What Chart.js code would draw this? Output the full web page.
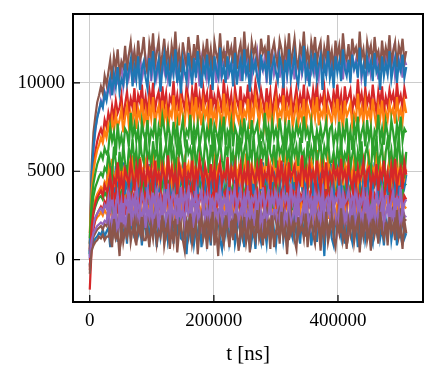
<!DOCTYPE html>
<html lang="en">
<head>
<meta charset="UTF-8">
<title>t [ns]</title>
<script src="https://cdn.jsdelivr.net/npm/chart.js"></script>
<style>
  html, body { margin: 0; padding: 0; background: #fff; }
  #wrap { width: 437px; height: 377px; }
</style>
</head>
<body>
<div id="wrap"><canvas id="runsChart"></canvas></div>
<script>
// sample times [ns]
const t = [
  0, 3000, 6000, 9000, 12000, 15000, 18000, 21000, 24000, 27000,
  30000, 33000, 36000, 39000, 42000, 45000, 48000, 51000, 54000, 57000,
  60000, 63000, 66000, 69000, 72000, 75000, 78000, 81000, 84000, 87000,
  90000, 93000, 96000, 99000, 102000, 105000, 108000, 111000, 114000, 117000,
  120000, 123000, 126000, 129000, 132000, 135000, 138000, 141000, 144000, 147000,
  150000, 153000, 156000, 159000, 162000, 165000, 168000, 171000, 174000, 177000,
  180000, 183000, 186000, 189000, 192000, 195000, 198000, 201000, 204000, 207000,
  210000, 213000, 216000, 219000, 222000, 225000, 228000, 231000, 234000, 237000,
  240000, 243000, 246000, 249000, 252000, 255000, 258000, 261000, 264000, 267000,
  270000, 273000, 276000, 279000, 282000, 285000, 288000, 291000, 294000, 297000,
  300000, 303000, 306000, 309000, 312000, 315000, 318000, 321000, 324000, 327000,
  330000, 333000, 336000, 339000, 342000, 345000, 348000, 351000, 354000, 357000,
  360000, 363000, 366000, 369000, 372000, 375000, 378000, 381000, 384000, 387000,
  390000, 393000, 396000, 399000, 402000, 405000, 408000, 411000, 414000, 417000,
  420000, 423000, 426000, 429000, 432000, 435000, 438000, 441000, 444000, 447000,
  450000, 453000, 456000, 459000, 462000, 465000, 468000, 471000, 474000, 477000,
  480000, 483000, 486000, 489000, 492000, 495000, 498000, 501000, 504000, 507000,
  510000
];

// runs, in plotting order (colour cycle blue, orange, green, red, purple, brown)
const run01 = [
  -300, 700, 1000, 1200, 1300, 1500, 1400, 1700, 1300, 1600,
  1800, 700, 2400, 1500, 2100, 1000, 2800, 1600, 1300, 2200,
  900, 2500, 1700, 2000, 1200, 2900, 1400, 1900, 800, 2300,
  1600, 2100, 1000, 2600, 1500, 1800, 700, 2400, 1300, 2000,
  1400, 2700, 1100, 1800, 2300, 900, 2100, 1600, 2500, 1200,
  1100, 1800, 300, 2000, 1300, 2400, 900, 1700, 1400, 2600,
  700, 1600, 2300, 1000, 1800, 800, 2400, 1300, 1700, 2600,
  1100, 600, 2200, 1500, 2800, 1000, 1700, 2400, 900, 1600,
  2500, 1200, 1900, 700, 2100, 1400, 2900, 1100, 1800, 600,
  2300, 1500, 1000, 2600, 1700, 900, 2200, 1300, 2700, 1600,
  800, 2000, 1400, 2500, 1100, 1900, 700, 2300, 1600, 1200,
  2800, 1300, 1800, 900, 2400, 1500, 2000, 1100, 2600, 800,
  1700, 2200, 1000, 2900, 1400, 1900, 200, 2300, 1600, 2100,
  1200, 800, 2500, 1700, 2000, 1300, 2700, 900, 1800, 2300,
  1500, 1000, 2400, 1900, 700, 2200, 1400, 2800, 1100, 1700,
  2500, 1300, 900, 2100, 1600, 2900, 1200, 1800, 800, 2300,
  1600, 2600, 1100, 1900, 2300, 800, 2000, 1400, 2700, 1200,
  1500
];
const run02 = [
  800, 1400, 1900, 2200, 2400, 2500, 2700, 2500, 2800, 2600,
  2400, 3600, 2200, 3000, 2700, 3700, 2000, 3200, 2600, 3800,
  3300, 2500, 3600, 3000, 2300, 3700, 2700, 3500, 2100, 3100,
  3800, 2600, 3200, 2900, 4100, 2400, 3400, 2800, 3600, 2300,
  3000, 3700, 2500, 3300, 2700, 3900, 2200, 3500, 3100, 2600,
  3600, 2800, 4000, 2400, 3200, 2900, 3700, 2300, 3400, 3000,
  2500, 3500, 2800, 3900, 2600, 3300, 2100, 3800, 2900, 3200,
  3600, 2400, 3100, 2700, 4200, 2900, 3400, 2500, 3700, 2800,
  3300, 2600, 3900, 3000, 2300, 3500, 2800, 3800, 2400, 3200,
  2700, 3600, 3000, 3400, 2500, 4000, 2900, 3300, 2600, 3700,
  2800, 2300, 3200, 2500, 3400, 2700, 3100, 3700, 2400, 3300,
  3500, 2400, 3100, 2600, 3700, 2200, 3300, 2800, 3900, 2500,
  3200, 2100, 3600, 2800, 4000, 2400, 3100, 3500, 2300, 3800,
  2700, 3400, 2000, 3200, 2900, 4100, 2600, 3300, 2400, 3700,
  3000, 2500, 3800, 3100, 2200, 3600, 2800, 4000, 2600, 3300,
  2400, 3700, 2900, 3400, 2100, 3900, 2700, 3200, 2500, 3600,
  3100, 2300, 4200, 2800, 3500, 2600, 3300, 2000, 3700, 3000,
  2900
];
const run03 = [
  300, 1900, 2600, 3000, 3300, 3500, 3600, 3400, 3800, 3600,
  4600, 3400, 2900, 4200, 3700, 5100, 3300, 3900, 2800, 4400,
  4100, 5100, 3600, 4400, 4900, 3000, 4500, 3900, 5200, 3700,
  4300, 3100, 4900, 4000, 4600, 3500, 5300, 4200, 3800, 4700,
  3400, 5000, 4200, 4500, 3700, 5400, 3900, 4400, 3200, 4800,
  4100, 4600, 3500, 5100, 4000, 4300, 3000, 4900, 3800, 4500,
  3900, 5200, 3600, 4300, 4800, 3400, 4600, 4100, 5000, 3700,
  3700, 4300, 3300, 4500, 3800, 4900, 3500, 4200, 3900, 5100,
  3400, 4100, 4700, 3200, 4300, 3600, 4900, 3000, 4200, 4600,
  3700, 3100, 4800, 4000, 5200, 3500, 4100, 4700, 2900, 4300,
  5000, 3800, 4400, 3200, 4600, 3900, 5300, 3400, 4200, 2800,
  4700, 4000, 3500, 5100, 4200, 3300, 4800, 3700, 5200, 4100,
  3100, 4500, 3900, 5000, 3600, 4400, 3000, 4900, 4100, 3700,
  5400, 3800, 4300, 3400, 4900, 4000, 4500, 3200, 5100, 3300,
  4200, 4700, 3500, 5300, 3900, 4400, 2900, 4800, 4100, 4600,
  3700, 3200, 5000, 4200, 4500, 3800, 5200, 3300, 4300, 4800,
  4000, 3500, 4900, 4400, 3100, 4700, 3900, 5300, 3600, 4200,
  4300
];
const run04 = [
  -1700, 600, 1700, 2300, 2600, 2800, 3000, 2800, 3300, 3100,
  4000, 2800, 3400, 3100, 4300, 2600, 3600, 3000, 3800, 2500,
  3500, 4200, 3000, 3800, 3200, 4400, 2700, 4000, 3600, 3100,
  4100, 3300, 4500, 2900, 3700, 3400, 4200, 2800, 3900, 3500,
  3000, 4000, 3300, 4400, 3100, 3800, 2600, 4300, 3400, 3700,
  4100, 2900, 3600, 3200, 4700, 3400, 3900, 3000, 4200, 3300,
  3800, 3100, 4400, 3500, 2800, 4000, 3300, 4300, 2900, 3700,
  3200, 4100, 3500, 3900, 3000, 4500, 3400, 3800, 3100, 4200,
  3300, 2800, 3700, 3000, 4000, 3300, 3600, 4300, 2900, 3800,
  4000, 2900, 3600, 3100, 4200, 2700, 3800, 3400, 4400, 3000,
  3700, 2600, 4100, 3300, 4500, 2900, 3600, 4000, 2800, 4300,
  3200, 3900, 2500, 3700, 3400, 4600, 3100, 3800, 2900, 4200,
  3500, 3000, 4300, 3600, 2700, 4100, 3300, 4500, 3100, 3800,
  2900, 4200, 3400, 3900, 2600, 4400, 3200, 3700, 3000, 4100,
  3600, 2800, 4700, 3300, 4000, 3100, 3800, 2500, 4200, 3500,
  3100, 4300, 2900, 3700, 3400, 4400, 2700, 3900, 3300, 4500,
  3800, 3000, 4100, 3500, 2800, 4200, 3200, 4000, 2600, 3600,
  3400
];
const run05 = [
  0, 4500, 6200, 7300, 8100, 8400, 9000, 8700, 9500, 9200,
  9900, 9400, 10500, 9700, 10800, 10100, 10400, 11000, 9800, 10600,
  11200, 10300, 10900, 11500, 10000, 11100, 10600, 11700, 10200, 10800,
  11400, 10500, 11900, 10100, 11000, 11600, 10400, 11200, 9900, 11300,
  10700, 11800, 10300, 11100, 10600, 12000, 10800, 10200, 11500, 10900,
  10400, 11600, 11000, 10100, 11300, 10700, 11800, 10500, 11100, 9800,
  11400, 10800, 11900, 10300, 11000, 11500, 10600, 11200, 10000, 11700,
  10500, 11300, 10900, 11800, 10200, 11100, 10700, 11600, 10400, 11000,
  11500, 10100, 11200, 10800, 11900, 10600, 11000, 10300, 11400, 10900,
  11700, 10400, 11100, 10700, 11500, 10000, 11300, 10800, 11900, 10500,
  11000, 11600, 10300, 11200, 10700, 11800, 10400, 11100, 10900, 11400,
  10200, 11300, 10800, 11700, 10500, 11000, 11500, 10100, 11200, 10700,
  11800, 10600, 11100, 10300, 11600, 10900, 11300, 10400, 11900, 10800,
  11200, 10500, 11700, 10900, 11000, 11400, 10200, 11600, 10700, 11100,
  10400, 11500, 10800, 11300, 10600, 11900, 10300, 11000, 11200, 10700,
  11600, 10500, 11100, 10900, 11800, 10200, 11400, 10800, 11000, 11500,
  10600, 11200, 10900, 11700, 10400, 11100, 10800, 11500, 10300, 11300,
  11000
];
const run06 = [
  -400, 900, 1300, 1500, 1700, 1800, 1900, 1700, 2000, 1900,
  2400, 1200, 1900, 1500, 3000, 1700, 2200, 1300, 2500, 1600,
  2400, 1700, 3000, 2100, 1400, 2600, 1900, 2900, 1500, 2300,
  1800, 2700, 2100, 2500, 1600, 3100, 2000, 2400, 1700, 2800,
  1900, 1400, 2300, 1600, 2600, 1900, 2200, 2900, 1500, 2400,
  2600, 1500, 2200, 1700, 2800, 1300, 2400, 2000, 3000, 1600,
  2300, 1200, 2700, 1900, 3100, 1500, 2200, 2600, 1400, 2900,
  1800, 2500, 1100, 2300, 2000, 3200, 1700, 2400, 1500, 2800,
  2100, 1600, 2900, 2200, 1300, 2700, 1900, 3100, 1700, 2400,
  1500, 2800, 2000, 2500, 1200, 3000, 1800, 2300, 1600, 2700,
  2200, 1400, 3300, 1900, 2600, 1700, 2400, 1100, 2800, 2100,
  1700, 2900, 1500, 2300, 2000, 3000, 1300, 2500, 1900, 3100,
  2400, 1600, 2700, 2100, 1400, 2800, 1800, 2600, 1200, 2200,
  2900, 1700, 2300, 2000, 3200, 1500, 2500, 1900, 2700, 1400,
  2100, 2800, 1600, 2400, 1800, 3000, 1300, 2600, 2200, 1700,
  2700, 1900, 3100, 1500, 2300, 2000, 2800, 1400, 2500, 2100,
  1600, 2600, 1900, 3000, 1700, 2400, 1200, 2900, 2000, 2300,
  2200
];
const run07 = [
  400, 2000, 2800, 3200, 3600, 3800, 4000, 3700, 4300, 4100,
  5700, 4200, 4700, 3800, 5300, 4400, 4900, 4000, 5500, 3700,
  4600, 5100, 3900, 5800, 4300, 4800, 3500, 5200, 4500, 5000,
  4100, 3700, 5400, 4600, 4900, 4200, 5600, 3800, 4700, 5200,
  4400, 3900, 5300, 4800, 3600, 5100, 4300, 5700, 4000, 4600,
  5400, 4200, 3800, 5000, 4500, 5800, 4100, 4700, 3700, 5200,
  4500, 5500, 4000, 4800, 5200, 3700, 4900, 4300, 5600, 4100,
  4700, 3600, 5300, 4400, 5000, 3900, 5700, 4500, 4200, 5100,
  3800, 5400, 4600, 4900, 4100, 5800, 4300, 4800, 3700, 5200,
  4500, 5000, 3900, 5500, 4400, 4700, 3600, 5300, 4200, 4900,
  4300, 5600, 4000, 4700, 5200, 3800, 5000, 4500, 5400, 4100,
  4000, 4700, 3600, 4900, 4200, 5300, 3800, 4600, 4300, 5500,
  3600, 4500, 5200, 3900, 4700, 3700, 5300, 4200, 4600, 5500,
  4000, 3500, 5100, 4400, 5700, 3900, 4600, 5300, 3800, 4500,
  5400, 4100, 4800, 3600, 5000, 4300, 5800, 4000, 4700, 3500,
  5200, 4400, 3900, 5500, 4600, 3800, 5100, 4200, 5600, 4500,
  3700, 4900, 4300, 5400, 4000, 4800, 3600, 5200, 4500, 4100,
  4800
];
const run08 = [
  600, 2200, 3000, 3400, 3700, 3900, 4100, 3900, 4400, 4200,
  5300, 4500, 5700, 4100, 4900, 4600, 5400, 4000, 5100, 4700,
  4500, 5500, 4800, 5900, 4600, 5300, 4100, 5800, 4900, 5200,
  5600, 4400, 5100, 4700, 6200, 4900, 5400, 4500, 5700, 4800,
  5300, 4600, 5900, 5000, 4300, 5500, 4800, 5800, 4400, 5200,
  4700, 5600, 5000, 5400, 4500, 6000, 4900, 5300, 4600, 5700,
  4800, 4300, 5200, 4500, 5400, 4700, 5100, 5700, 4400, 5300,
  5500, 4400, 5100, 4600, 5700, 4200, 5300, 4800, 5900, 4500,
  5200, 4100, 5600, 4800, 6000, 4400, 5100, 5500, 4300, 5800,
  4700, 5400, 4000, 5200, 4900, 6100, 4600, 5300, 4400, 5700,
  5000, 4500, 5800, 5100, 4200, 5600, 4800, 6000, 4600, 5300,
  4400, 5700, 4900, 5400, 4100, 5900, 4700, 5200, 4500, 5600,
  5100, 4300, 6200, 4800, 5500, 4600, 5300, 4000, 5700, 5000,
  4600, 5800, 4400, 5200, 4900, 5900, 4200, 5400, 4800, 6000,
  5300, 4500, 5600, 5000, 4300, 5700, 4700, 5500, 4100, 5100,
  5800, 4600, 5200, 4900, 6100, 4400, 5400, 4800, 5600, 4300,
  5000, 5700, 4500, 5300, 4700, 5900, 4200, 5500, 5100, 4600,
  5100
];
const run09 = [
  900, 2700, 3600, 4100, 4400, 4700, 4900, 4700, 5200, 5000,
  6000, 5300, 4800, 6400, 5500, 4600, 6100, 5000, 6500, 5400,
  4900, 6300, 5700, 6800, 5400, 6200, 4800, 6700, 5900, 5500,
  7200, 5600, 6100, 5200, 6700, 5800, 6300, 5000, 6900, 5100,
  6000, 6500, 5300, 7100, 5700, 6200, 4700, 6600, 5900, 6400,
  5500, 5000, 6800, 6000, 6300, 5600, 7000, 5100, 6100, 6600,
  5800, 5300, 6700, 6200, 4900, 6500, 5700, 7100, 5400, 6000,
  6800, 5600, 5100, 6400, 5900, 7300, 5500, 6100, 5000, 6600,
  5900, 6900, 5400, 6200, 6700, 4800, 6300, 5700, 7000, 5500,
  6100, 4900, 6700, 5800, 6400, 5300, 7100, 6000, 5600, 6500,
  5200, 6800, 6000, 6300, 5500, 7200, 5700, 6200, 5000, 6600,
  5900, 6400, 5300, 6900, 5800, 6100, 4800, 6700, 5600, 6300,
  5700, 7000, 5400, 6100, 6600, 5200, 6400, 5900, 6800, 5500,
  5500, 6100, 5100, 6300, 5600, 6700, 5300, 6000, 5700, 6900,
  5200, 5900, 6500, 5000, 6100, 5400, 6700, 4800, 6000, 6400,
  5500, 4900, 6600, 5800, 7000, 5300, 5900, 6500, 4700, 6100,
  6800, 5600, 6200, 5000, 6400, 5700, 7100, 5200, 6000, 4600,
  6100
];
const run10 = [
  500, 3800, 5300, 6100, 6700, 7100, 7400, 7000, 7900, 7500,
  8300, 7800, 8700, 8000, 9000, 8300, 8600, 9300, 7900, 8800,
  9500, 8400, 9100, 8600, 9700, 8200, 9300, 8900, 9900, 8500,
  9200, 8100, 9600, 8800, 10000, 8400, 9100, 9500, 8300, 9800,
  8700, 9400, 8000, 9200, 8900, 10100, 8600, 9300, 8400, 9700,
  9000, 8500, 9800, 9100, 8200, 9600, 8800, 10000, 8600, 9300,
  8400, 9700, 8900, 9400, 8100, 9900, 8700, 9200, 8500, 9600,
  9100, 8300, 10200, 8800, 9500, 8600, 9300, 8000, 9700, 9000,
  8600, 9800, 8400, 9200, 8900, 9900, 8200, 9400, 8800, 10000,
  9300, 8500, 9600, 9000, 8300, 9700, 8700, 9500, 8100, 9100,
  9800, 8600, 9200, 8900, 10100, 8400, 9400, 8800, 9600, 8300,
  9000, 9700, 8500, 9300, 8700, 9900, 8200, 9500, 9100, 8600,
  9600, 8800, 10000, 8400, 9200, 8900, 9700, 8300, 9400, 9000,
  8500, 9500, 8800, 9900, 8600, 9300, 8100, 9800, 8900, 9200,
  9600, 8400, 9100, 8700, 10200, 8900, 9400, 8500, 9700, 8800,
  9300, 8600, 9900, 9000, 8300, 9500, 8800, 9800, 8400, 9200,
  8700, 9600, 9000, 9400, 8500, 10000, 8900, 9300, 8600, 9700,
  9100
];
const run11 = [
  200, 1400, 2000, 2400, 2600, 2800, 2900, 2700, 3100, 2900,
  3500, 2600, 4000, 2200, 3100, 3700, 2500, 3300, 2000, 3400,
  3100, 4200, 2700, 3500, 3000, 4400, 3200, 2600, 3900, 3300,
  2800, 4000, 3400, 2500, 3700, 3100, 4200, 2900, 3500, 2200,
  3800, 3200, 4300, 2700, 3400, 3900, 3000, 3600, 2400, 4100,
  2900, 3700, 3300, 4200, 2600, 3500, 3100, 4000, 2800, 3400,
  3900, 2500, 3600, 3200, 4300, 3000, 3400, 2700, 3800, 3300,
  4100, 2800, 3500, 3100, 3900, 2400, 3700, 3200, 4300, 2900,
  3400, 4000, 2700, 3600, 3100, 4200, 2800, 3500, 3300, 3800,
  2600, 3700, 3200, 4100, 2900, 3400, 3900, 2500, 3600, 3100,
  4200, 3000, 3500, 2700, 4000, 3300, 3700, 2800, 4300, 3200,
  3600, 2900, 4100, 3300, 3400, 3800, 2600, 4000, 3100, 3500,
  2800, 3900, 3200, 3700, 3000, 4300, 2700, 3400, 3600, 3100,
  4000, 2900, 3500, 3300, 4200, 2600, 3800, 3200, 3400, 3900,
  3000, 3600, 3300, 4100, 2800, 3500, 3200, 3900, 2700, 3700,
  2900, 2400, 3500, 2700, 3800, 3100, 3400, 4000, 2800, 3600,
  3600, 2700, 3300, 3900, 2400, 3500, 3000, 4100, 2600, 3200,
  3400
];
const run12 = [
  900, 5300, 7200, 8100, 8900, 9300, 9800, 9400, 10400, 9900,
  10600, 11300, 10200, 11500, 10800, 11900, 10400, 11200, 10900, 12100,
  10700, 11600, 12300, 11000, 11800, 10800, 12400, 11300, 11700, 12600,
  11100, 10600, 12200, 11500, 12800, 11000, 11700, 12400, 10900, 11600,
  12500, 11200, 11900, 10700, 12100, 11400, 12900, 11100, 11800, 10600,
  12300, 11500, 11000, 12600, 11700, 10900, 12200, 11300, 12700, 11600,
  10800, 12000, 11400, 12500, 11100, 11900, 10700, 12300, 11600, 11200,
  12800, 11300, 11800, 10900, 12400, 11500, 12000, 11100, 12600, 10800,
  11700, 12200, 11000, 12900, 11400, 11900, 10600, 12300, 11600, 12100,
  11200, 10800, 12500, 11700, 12000, 11300, 12700, 10900, 11800, 12300,
  11500, 11000, 12400, 11900, 10700, 12200, 11400, 12800, 11100, 11700,
  12500, 11300, 10900, 12100, 11600, 12900, 11200, 11800, 10800, 12300,
  11600, 12600, 11100, 11900, 12300, 10800, 12000, 11400, 12700, 11200,
  11800, 10700, 12400, 11500, 12100, 11000, 12800, 11600, 11300, 12200,
  10900, 12500, 11700, 12000, 11200, 12900, 11400, 11900, 10800, 12300,
  11600, 12100, 11000, 12600, 11500, 11800, 10700, 12400, 11300, 12000,
  11400, 12700, 11100, 11800, 12300, 10900, 12100, 11600, 12500, 11200,
  11800
];
const run13 = [
  300, 4700, 6400, 7400, 8000, 8500, 8900, 8600, 9400, 9000,
  9700, 10300, 9300, 10500, 9800, 10900, 9500, 10200, 9900, 11100,
  10000, 10700, 11300, 9800, 10900, 10200, 11500, 9600, 10800, 11200,
  10300, 9700, 11400, 10600, 11800, 10100, 10700, 11300, 9500, 10900,
  11600, 10400, 11000, 9800, 11200, 10500, 11900, 10000, 10800, 9400,
  11300, 10600, 10100, 11700, 10800, 9900, 11400, 10300, 11800, 10700,
  9700, 11100, 10500, 11600, 10200, 11000, 9600, 11500, 10700, 10300,
  12000, 10400, 10900, 10000, 11500, 10600, 11100, 9800, 11700, 9900,
  10800, 11300, 10100, 11900, 10500, 11000, 9500, 11400, 10700, 11200,
  10300, 9800, 11600, 10800, 11100, 10400, 11800, 9900, 10900, 11400,
  10600, 10100, 11500, 11000, 9700, 11300, 10500, 11900, 10200, 10800,
  11600, 10400, 9900, 11200, 10700, 12100, 10300, 10900, 9800, 11400,
  10700, 11700, 10200, 11000, 11500, 9600, 11100, 10500, 11800, 10300,
  10900, 9700, 11500, 10600, 11200, 10100, 11900, 10800, 10400, 11300,
  10000, 11600, 10800, 11100, 10300, 12000, 10500, 11000, 9800, 11400,
  10700, 11200, 10100, 11700, 10600, 10900, 9600, 11500, 10400, 11100,
  10500, 11800, 10200, 10900, 11400, 10000, 11200, 10700, 11600, 10300,
  10900
];
const run14 = [
  1500, 3900, 5000, 5700, 6200, 6500, 6900, 6600, 7300, 6900,
  7600, 7100, 8000, 7300, 8200, 7500, 7900, 8500, 7200, 8100,
  8700, 7600, 8300, 7800, 8900, 7400, 8500, 8000, 9100, 7700,
  8400, 7300, 8800, 8000, 9200, 7600, 8300, 8700, 7500, 9000,
  7900, 8600, 7200, 8400, 8100, 9300, 7800, 8500, 7600, 8900,
  8200, 7700, 9000, 8300, 7400, 8800, 8000, 9200, 7800, 8500,
  7600, 8900, 8100, 8600, 7300, 9100, 7900, 8400, 7700, 8800,
  8300, 7500, 9400, 8000, 8700, 7800, 8500, 7200, 8900, 8200,
  7800, 9000, 7600, 8400, 8100, 9100, 7400, 8600, 8000, 9200,
  8500, 7700, 8800, 8200, 7500, 8900, 7900, 8700, 7300, 8300,
  9000, 7800, 8400, 8100, 9300, 7600, 8600, 8000, 8800, 7500,
  8200, 8900, 7700, 8500, 7900, 9100, 7400, 8700, 8300, 7800,
  8800, 8000, 9200, 7600, 8400, 8100, 8900, 7500, 8600, 8200,
  7700, 8700, 8000, 9100, 7800, 8500, 7300, 9000, 8100, 8400,
  8800, 7600, 8300, 7900, 9400, 8100, 8600, 7700, 8900, 8000,
  8500, 7800, 9100, 8200, 7500, 8700, 8000, 9000, 7600, 8400,
  7900, 8800, 8200, 8600, 7700, 9200, 8100, 8500, 7800, 8900,
  8300
];
const run15 = [
  1200, 3300, 4300, 4900, 5400, 5700, 6000, 5700, 6300, 6000,
  6200, 7500, 6700, 7200, 5900, 7700, 6500, 7000, 6300, 7400,
  7200, 6400, 8300, 6900, 7600, 6700, 7400, 6100, 7800, 7100,
  6700, 7900, 6500, 7300, 7000, 8000, 6300, 7500, 6900, 8100,
  7400, 6600, 7700, 7100, 6400, 7800, 6800, 7600, 6200, 7200,
  7900, 6700, 7300, 7000, 8200, 6500, 7500, 6900, 7700, 6400,
  7100, 7800, 6600, 7400, 6800, 8000, 6300, 7600, 7200, 6700,
  7700, 6900, 8100, 6500, 7300, 7000, 7800, 6400, 7500, 7100,
  6600, 7600, 6900, 8000, 6700, 7400, 6200, 7900, 7000, 7300,
  7700, 6500, 7200, 6800, 8300, 7000, 7500, 6600, 7800, 6900,
  7400, 6700, 8000, 7100, 6400, 7600, 6900, 7900, 6500, 7300,
  6800, 7700, 7100, 7500, 6600, 8100, 7000, 7400, 6700, 7800,
  6900, 6400, 7300, 6600, 7500, 6800, 7200, 7800, 6500, 7400,
  7600, 6500, 7200, 6700, 7800, 6300, 7400, 6900, 8000, 6600,
  7300, 6200, 7700, 6900, 8100, 6500, 7200, 7600, 6400, 7900,
  6800, 7500, 6100, 7300, 7000, 8200, 6700, 7400, 6500, 7800,
  7100, 6600, 7900, 7200, 6300, 7700, 6900, 8100, 6700, 7400,
  7200
];
const run16 = [
  -600, 1900, 2700, 3200, 3500, 3700, 3900, 3600, 4200, 3900,
  4100, 4800, 3400, 4600, 4300, 5500, 4000, 4700, 3800, 5100,
  4700, 4200, 5500, 4800, 3900, 5300, 4500, 5700, 4300, 5000,
  4100, 5400, 4600, 5100, 3800, 5600, 4400, 4900, 4200, 5300,
  4800, 4000, 5900, 4500, 5200, 4300, 5000, 3700, 5400, 4700,
  4300, 5500, 4100, 4900, 4600, 5600, 3900, 5100, 4500, 5700,
  5000, 4200, 5300, 4700, 4000, 5400, 4400, 5200, 3800, 4800,
  5500, 4300, 4900, 4600, 5800, 4100, 5100, 4500, 5300, 4000,
  4700, 5400, 4200, 5000, 4400, 5600, 3900, 5200, 4800, 4300,
  5300, 4500, 5700, 4100, 4900, 4600, 5400, 4000, 5100, 4700,
  4200, 5200, 4500, 5600, 4300, 5000, 3800, 5500, 4600, 4900,
  5300, 4100, 4800, 4400, 5900, 4600, 5100, 4200, 5400, 4500,
  5000, 4300, 5600, 4700, 4000, 5200, 4500, 5500, 4100, 4900,
  4400, 5300, 4700, 5100, 4200, 5700, 4600, 5000, 4300, 5400,
  4500, 4000, 4900, 4200, 5200, 4500, 4800, 5500, 4100, 5000,
  5200, 4100, 4800, 4300, 5400, 3900, 5000, 4600, 5600, 4200,
  4900, 3800, 5300, 4500, 5700, 4100, 4800, 5200, 4000, 5500,
  4800
];
const run17 = [
  100, 1100, 1500, 1700, 1900, 2000, 2100, 2000, 2200, 2100,
  3000, 1700, 2400, 2000, 2800, 1300, 2600, 2100, 3200, 1800,
  2600, 3200, 1900, 2800, 2300, 3400, 2000, 2700, 2500, 3000,
  1800, 2900, 2400, 3300, 2100, 2600, 3100, 1700, 2800, 2300,
  3400, 2200, 2700, 1900, 3200, 2500, 2900, 2000, 3500, 2400,
  2800, 2100, 3300, 2500, 2600, 3000, 1800, 3200, 2300, 2700,
  2000, 3100, 2400, 2900, 2200, 3500, 1900, 2600, 2800, 2300,
  3200, 2100, 2700, 2500, 3400, 1800, 3000, 2400, 2600, 3100,
  2200, 2800, 2500, 3300, 2000, 2700, 2400, 3100, 1900, 2900,
  2100, 1600, 2700, 1900, 3000, 2300, 2600, 3200, 2000, 2800,
  2800, 1900, 2500, 3100, 1600, 2700, 2200, 3300, 1800, 2400,
  3000, 2100, 3500, 1700, 2600, 3200, 2000, 2800, 1500, 2900,
  2300, 3400, 1900, 2700, 2200, 3600, 2400, 1800, 3100, 2500,
  2000, 3200, 2600, 1700, 2900, 2300, 3400, 2100, 2700, 1400,
  3000, 2400, 3500, 1900, 2600, 3100, 2200, 2800, 1600, 3300,
  2100, 2900, 2500, 3400, 1800, 2700, 2300, 3200, 2000, 2600,
  3100, 1700, 2800, 2400, 3500, 2200, 2600, 1900, 3000, 2500,
  2400
];
const run18 = [
  -800, 500, 800, 1000, 1100, 1300, 1200, 1400, 1100, 1300,
  1300, 1800, 700, 2300, 1200, 1500, 200, 2100, 1000, 1700,
  1300, 2600, 1000, 1700, 2200, 800, 2000, 1500, 2400, 1100,
  1100, 1700, 700, 1900, 1200, 2300, 900, 1600, 1300, 2500,
  800, 1500, 2100, 600, 1700, 1000, 2300, 400, 1600, 2000,
  1100, 500, 2200, 1400, 2600, 900, 1500, 2100, 300, 1700,
  2400, 1200, 1800, 600, 2000, 1300, 2700, 800, 1600, 200,
  2100, 1400, 900, 2500, 1600, 700, 2200, 1100, 2600, 1500,
  500, 1900, 1300, 2400, 1000, 1800, 400, 2300, 1500, 1100,
  2800, 1200, 1700, 800, 2300, 1400, 1900, 600, 2500, 700,
  1600, 2100, 900, 2700, 1300, 1800, 300, 2200, 1500, 2000,
  1100, 600, 2400, 1600, 1900, 1200, 2600, 700, 1700, 2200,
  1400, 900, 2300, 1800, 500, 2100, 1300, 2700, 1000, 1600,
  2400, 1200, 700, 2000, 1500, 2900, 1100, 1700, 600, 2200,
  1500, 2500, 1000, 1800, 2300, 400, 1900, 1300, 2600, 1100,
  1700, 500, 2300, 1400, 2000, 900, 2700, 1600, 1200, 2100,
  800, 2400, 1600, 1900, 1100, 2800, 1300, 1800, 600, 2200,
  1500
];

const runs = [run01, run02, run03, run04, run05, run06, run07, run08, run09,
              run10, run11, run12, run13, run14, run15, run16, run17, run18];
const colors = ['#1f77b4', '#ff7f0e', '#2ca02c', '#d62728', '#9467bd', '#8c564b'];
const xTicks = [0, 200000, 400000];
const yTicks = [0, 5000, 10000];

const serif = "'Liberation Serif', 'DejaVu Serif', serif";

// inward tick marks + full box like the matplotlib frame
const frameTicks = {
  id: 'frameTicks',
  afterDatasetsDraw(chart) {
    const { ctx, chartArea: a, scales: { x, y } } = chart;
    ctx.save();
    ctx.strokeStyle = '#000';
    ctx.lineWidth = 1.2;
    ctx.beginPath();
    xTicks.forEach(v => {
      const px = x.getPixelForValue(v);
      ctx.moveTo(px, a.bottom);
      ctx.lineTo(px, a.bottom - 7);
    });
    yTicks.forEach(v => {
      const py = y.getPixelForValue(v);
      ctx.moveTo(a.left, py);
      ctx.lineTo(a.left + 7, py);
    });
    ctx.stroke();
    ctx.lineWidth = 2;
    ctx.strokeRect(a.left, a.top, a.right - a.left, a.bottom - a.top);
    ctx.restore();
  }
};

const datasets = runs.map((vals, i) => ({
  label: 'run ' + (i + 1),
  data: vals.map((v, k) => ({ x: t[k], y: v })),
  borderColor: colors[i % colors.length],
  backgroundColor: colors[i % colors.length],
  borderWidth: 2.2,
  pointRadius: 0,
  tension: 0,
  order: runs.length - i   // later runs drawn on top
}));

new Chart(document.getElementById('runsChart'), {
  type: 'line',
  data: { datasets },
  options: {
    responsive: true,
    maintainAspectRatio: false,
    animation: false,
    layout: { padding: { top: 14, right: 14, left: 0, bottom: 0 } },
    plugins: { legend: { display: false }, tooltip: { enabled: false } },
    scales: {
      x: {
        type: 'linear',
        min: -27000,
        max: 537000,
        afterBuildTicks: axis => { axis.ticks = xTicks.map(v => ({ value: v })); },
        afterFit: s => { s.height = 75; },
        ticks: {
          callback: v => String(v),
          color: '#000',
          font: { family: serif, size: 19 },
          padding: 8,
          maxRotation: 0,
          autoSkip: false
        },
        grid: { color: '#cccccc', lineWidth: 1, drawTicks: false },
        border: { display: false },
        title: {
          display: true,
          text: 't [ns]',
          color: '#000',
          font: { family: serif, size: 21 },
          padding: { top: 2, bottom: 10 }
        }
      },
      y: {
        type: 'linear',
        min: -2400,
        max: 13900,
        afterBuildTicks: axis => { axis.ticks = yTicks.map(v => ({ value: v })); },
        afterFit: s => { s.width = 73; s.paddingTop = 0; s.paddingBottom = 0; },
        ticks: {
          callback: v => String(v),
          color: '#000',
          font: { family: serif, size: 19 },
          padding: 8
        },
        grid: { color: '#cccccc', lineWidth: 1, drawTicks: false },
        border: { display: false }
      }
    }
  },
  plugins: [frameTicks]
});
</script>
</body>
</html>
